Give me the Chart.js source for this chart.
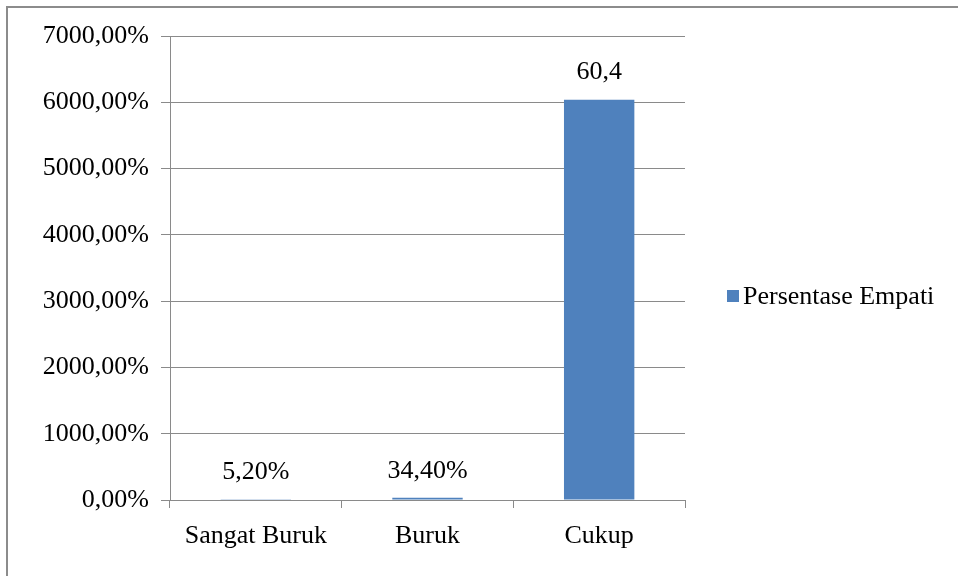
<!DOCTYPE html>
<html>
<head>
<meta charset="utf-8">
<script src="https://cdn.jsdelivr.net/npm/chart.js@4"></script>
<style>
  html, body { margin: 0; padding: 0; background: #fff; }
  canvas { display: block; }
</style>
</head>
<body>
<canvas id="chart" width="958" height="576"></canvas>
<script>
// Categories, values and value labels for the empathy chart
const categories = ['Sangat Buruk', 'Buruk', 'Cukup'];
const seriesName = 'Persentase Empati';
const empatiValues = [0.052, 0.344, 60.4];
const valueLabels = ['5,20%', '34,40%', '60,4'];
const axisMax = 70;
const axisStep = 10;

const FONT = '"Liberation Serif", "Times New Roman", serif';
const FONT_SIZE = 26;
const BAR_COLOR = '#4F81BD';
const GRID_COLOR = '#8a8a8a';

// Y ticks: value shown as percentage with two decimals and a decimal comma
function percentTick(v) {
  return (v * 100).toFixed(2).replace('.', ',') + '%';
}

// Frame lines along the top and left edges
const framePlugin = {
  id: 'frame',
  beforeDraw(chart) {
    const ctx = chart.ctx;
    ctx.save();
    ctx.fillStyle = '#fff';
    ctx.fillRect(0, 0, chart.width, chart.height);
    ctx.strokeStyle = '#8c8c8c';
    ctx.lineWidth = 2;
    ctx.beginPath();
    ctx.moveTo(7, chart.height);
    ctx.lineTo(7, 7);
    ctx.lineTo(chart.width, 7);
    ctx.stroke();
    ctx.restore();
  }
};

// Value labels above each bar
const valueLabelPlugin = {
  id: 'valueLabels',
  afterDatasetsDraw(chart) {
    const ctx = chart.ctx;
    const meta = chart.getDatasetMeta(0);
    ctx.save();
    ctx.font = FONT_SIZE + 'px ' + FONT;
    ctx.fillStyle = '#000';
    ctx.textAlign = 'center';
    ctx.textBaseline = 'middle';
    meta.data.forEach((bar, i) => {
      ctx.fillText(valueLabels[i], bar.x, bar.y - 27);
    });
    ctx.restore();
  }
};

// Legend entry on the right side
const sideLegendPlugin = {
  id: 'sideLegend',
  afterDraw(chart) {
    const ctx = chart.ctx;
    const ds = chart.data.datasets[0];
    ctx.save();
    ctx.fillStyle = ds.backgroundColor;
    ctx.fillRect(727, 290, 12, 12);
    ctx.font = FONT_SIZE + 'px ' + FONT;
    ctx.fillStyle = '#000';
    ctx.textAlign = 'left';
    ctx.textBaseline = 'middle';
    ctx.fillText(ds.label, 743, 297);
    ctx.restore();
  }
};

new Chart(document.getElementById('chart'), {
  type: 'bar',
  data: {
    labels: categories,
    datasets: [{
      label: seriesName,
      data: empatiValues,
      backgroundColor: BAR_COLOR,
      borderWidth: 0,
      barPercentage: 0.41,
      categoryPercentage: 1.0
    }]
  },
  options: {
    responsive: false,
    animation: false,
    devicePixelRatio: 1,
    layout: { padding: { top: 36, right: 273, bottom: 0, left: 0 } },
    plugins: {
      legend: { display: false },
      tooltip: { enabled: false }
    },
    scales: {
      y: {
        min: 0,
        max: axisMax,
        afterFit(scale) { scale.width = 170; },
        ticks: {
          stepSize: axisStep,
          callback: (v) => percentTick(v),
          font: { family: FONT, size: FONT_SIZE },
          color: '#000',
          padding: 12
        },
        grid: {
          color: GRID_COLOR,
          lineWidth: 1,
          tickLength: 9,
          drawTicks: true
        },
        border: { color: GRID_COLOR, width: 1 }
      },
      x: {
        afterFit(scale) { scale.height = 76; },
        ticks: {
          font: { family: FONT, size: FONT_SIZE },
          color: '#000',
          padding: 13
        },
        grid: {
          offset: true,
          drawOnChartArea: false,
          color: GRID_COLOR,
          tickLength: 8
        },
        border: { color: GRID_COLOR, width: 1 }
      }
    }
  },
  plugins: [framePlugin, valueLabelPlugin, sideLegendPlugin]
});
</script>
</body>
</html>
